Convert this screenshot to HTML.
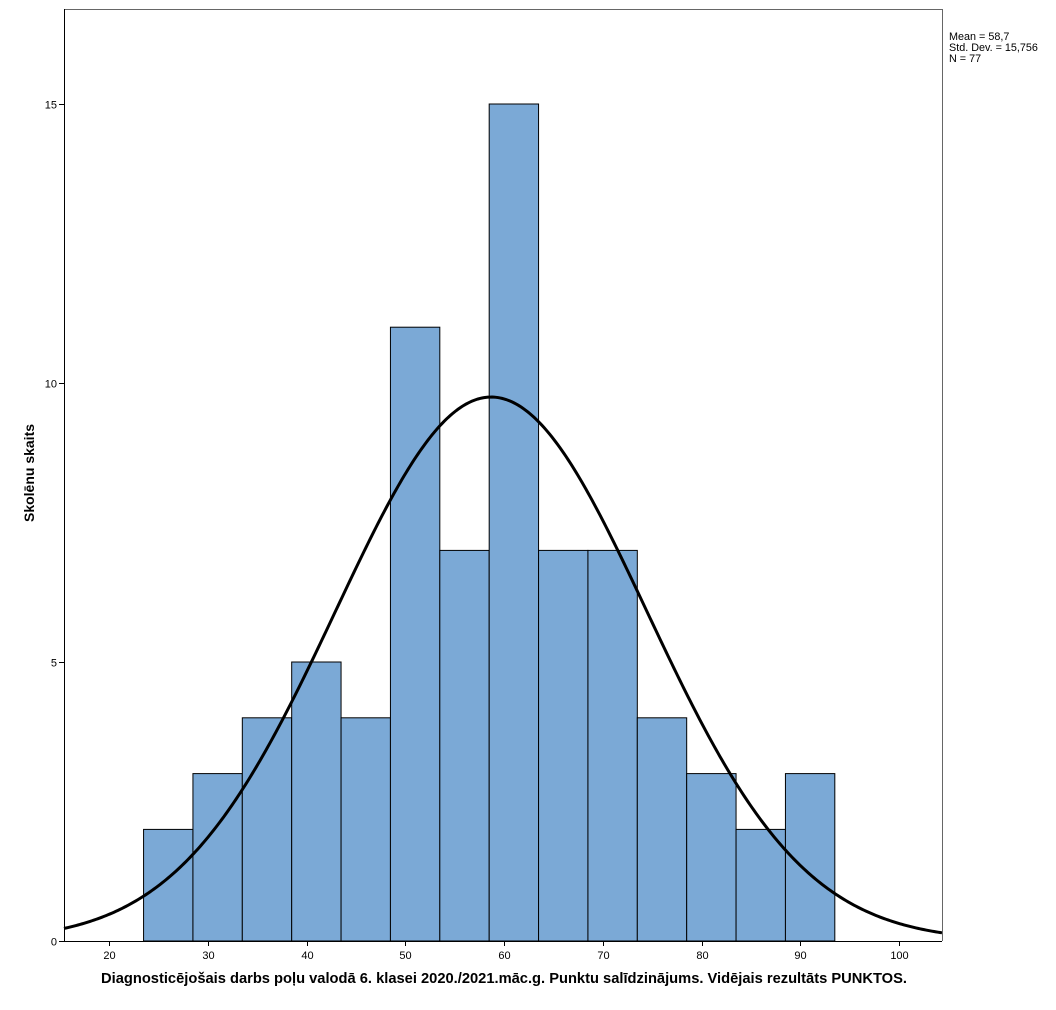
<!DOCTYPE html>
<html><head><meta charset="utf-8"><style>
html,body{margin:0;padding:0;background:#fff}
svg text{font-family:"Liberation Sans",sans-serif}
</style></head><body>
<svg id="s" width="1056" height="1005" xmlns="http://www.w3.org/2000/svg">
<rect x="0" y="0" width="1056" height="1005" fill="#fff"/>
<g id="bars"></g>
<path id="curve" fill="none" stroke="#000" stroke-width="3"/>
<line x1="64" y1="9.5" x2="942" y2="9.5" stroke="#666" stroke-width="1"/>
<line x1="942.5" y1="9" x2="942.5" y2="941" stroke="#666" stroke-width="1"/>
<line x1="64.5" y1="9" x2="64.5" y2="942" stroke="#000" stroke-width="1"/>
<line x1="64" y1="941.5" x2="942" y2="941.5" stroke="#000" stroke-width="1"/>
<g id="ticks" stroke="#000" stroke-width="1"></g>
<g id="labels" font-size="11" fill="#000"></g>
<text x="949" y="40" font-size="10.8">Mean = 58,7</text>
<text x="949" y="51" font-size="10.8">Std. Dev. = 15,756</text>
<text x="949" y="62" font-size="10.8">N = 77</text>
<text transform="translate(34,473) rotate(-90)" font-size="14" font-weight="bold" text-anchor="middle">Skolēnu skaits</text>
<text x="504" y="983" font-size="14.7" font-weight="bold" text-anchor="middle">Diagnosticējošais darbs poļu valodā 6. klasei 2020./2021.māc.g. Punktu salīdzinājums. Vidējais rezultāts PUNKTOS.</text>
</svg>
<script>
var NS="http://www.w3.org/2000/svg";
function X(v){return 109+(v-20)*9.875;}
function Y(c){return 941-c*55.8;}
var counts=[2,3,4,5,4,11,7,15,7,7,4,3,2,3];
var g=document.getElementById('bars');
counts.forEach(function(c,i){
 var x0=X(23.5+5*i),x1=X(28.5+5*i);
 var r=document.createElementNS(NS,'rect');
 r.setAttribute('x',x0);r.setAttribute('y',Y(c));
 r.setAttribute('width',x1-x0);r.setAttribute('height',941-Y(c));
 r.setAttribute('fill','#7ba9d6');r.setAttribute('stroke','#000');r.setAttribute('stroke-width','1');
 g.appendChild(r);
});
var m=58.7,sd=15.756,k=77*5/(sd*Math.sqrt(2*Math.PI));
var d="";
for(var px=64;px<=942;px+=2){
 var v=20+(px-109)/9.875;
 var y=Y(k*Math.exp(-0.5*Math.pow((v-m)/sd,2)));
 d+=(d?"L":"M")+px+" "+y.toFixed(2);
}
document.getElementById('curve').setAttribute('d',d);
var t=document.getElementById('ticks'),l=document.getElementById('labels');
for(var v=20;v<=100;v+=10){
 var x=Math.round(X(v))+0.5;
 var ln=document.createElementNS(NS,'line');
 ln.setAttribute('x1',x);ln.setAttribute('x2',x);ln.setAttribute('y1',941);ln.setAttribute('y2',946);t.appendChild(ln);
 var tx=document.createElementNS(NS,'text');
 tx.setAttribute('x',x);tx.setAttribute('y',959);tx.setAttribute('text-anchor','middle');tx.textContent=v;l.appendChild(tx);
}
[0,5,10,15].forEach(function(c){
 var y=Math.round(Y(c))+0.5;
 var ln=document.createElementNS(NS,'line');
 ln.setAttribute('x1',59);ln.setAttribute('x2',64);ln.setAttribute('y1',y);ln.setAttribute('y2',y);t.appendChild(ln);
 var tx=document.createElementNS(NS,'text');
 tx.setAttribute('x',57);tx.setAttribute('y',y+4);tx.setAttribute('text-anchor','end');tx.textContent=c;l.appendChild(tx);
});
</script>
</body></html>
